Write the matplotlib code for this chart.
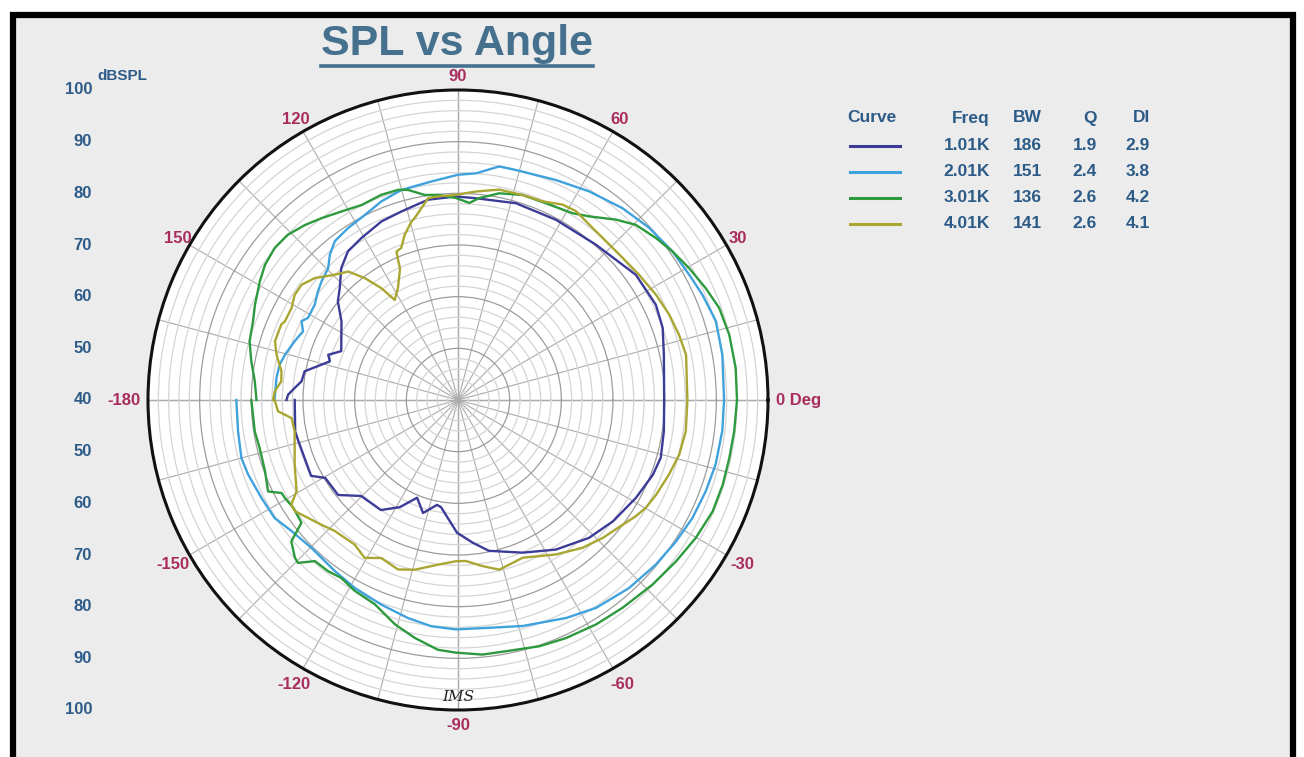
import numpy as np
import matplotlib
matplotlib.use("Agg")
import matplotlib.pyplot as plt
from matplotlib.patches import Rectangle
from matplotlib.lines import Line2D

plt.rcParams['font.family'] = ['Liberation Sans', 'DejaVu Sans']

# ---------------- data ----------------
theta_1k = [-180, -169, -165.6, -152.7, -149.6, -141.6, -135.3, -125, -118.5, -112.7, -107.2, -101.3, -99,
            -90.4, -84, -78.4, -67, -56.8, -46.5, -38, -28.8, -21, -15.9, -8.6, 0, 12.4, 19.4, 25.7, 35.1,
            48.4, 61.5, 73.6, 84.9, 90.6, 98.5, 106.7, 113.2, 120.8, 126.5, 131.5, 136.6, 140.6, 146, 157.3,
            160.8, 163.2, 165.5, 169.4, 173.2, 175.8, 178.2, 180]
spl_1k = [71.6, 72.1, 71.9, 72.0, 69.8, 69.6, 66.4, 66.0, 63.6, 60.5, 62.9, 60.7, 61.0,
          65.7, 67.8, 69.8, 72.1, 74.6, 76.8, 78.1, 79.3, 80.4, 80.8, 80.3, 79.9, 80.8, 82.0, 82.5, 82.1,
          80.2, 79.7, 79.7, 79.2, 79.4, 79.2, 78.1, 77.6, 76.5, 75.8, 74.1, 71.5, 70.1, 67.2, 64.5,
          66.6, 65.9, 67.3, 70.2, 70.5, 71.7, 72.9, 73.2]

theta_2k = [-180, -171.9, -165, -160.4, -153.5, -147.2, -141.8, -134.7, -125.7, -118.8, -110.5, -102.9, -96.7,
            -90.5, -82.2, -74, -63.6, -56.4, -47.7, -39.8, -33, -26.7, -20.2, -14.1, -6.7, 0, 9.7, 17, 23.3,
            28.4, 34.7, 42, 49.4, 57.8, 66, 75.9, 80, 85.5, 90, 97, 105.1, 111.1, 116.7, 122.6, 127.8, 131.4,
            134.6, 139, 142.2, 146.4, 151.3, 153.3, 156.1, 160.2, 165.3, 168.8, 173.1, 180]
spl_2k = [82.9, 83.0, 83.4, 83.1, 82.5, 82.2, 81.0, 80.3, 80.8, 81.5, 82.3, 83.3, 84.1,
          84.4, 84.5, 85.5, 87.1, 88.3, 89.2, 89.8, 90.3, 90.8, 91.1, 91.4, 91.5, 91.5, 91.9, 92.2, 91.5,
          90.9, 90.5, 89.8, 88.9, 87.7, 86.6, 85.9, 85.9, 84.0, 83.6, 82.6, 82.1, 81.2, 80.1, 79.5, 78.9, 77.5,
          75.8, 75.0, 74.3, 73.3, 73.1, 73.9, 72.8, 73.6, 74.6, 75.2, 75.4, 75.5]

theta_3k = [-180, -171.2, -166.4, -159.8, -154.3, -152.2, -150.5, -146.8, -141.9, -139.7, -136, -134.5, -131.6,
            -127.2, -123.3, -118.4, -112.1, -105.7, -100.3, -94.6, -90.5, -84.5, -79.2, -71.7, -65.6, -58.4,
            -51.6, -43.5, -36.5, -30.1, -23.6, -17.7, -12.1, -6.5, 0, 6.6, 13.5, 19.4, 24.3, 29.7, 34.7, 39.3,
            44.6, 48.8, 54.4, 58.5, 65.9, 72.5, 78.7, 84, 86.7, 90.6, 95.6, 99.2, 103.4, 105.9, 110.5, 116.3,
            121.7, 126.9, 131.2, 135.8, 140.3, 145, 149.1, 154.9, 159, 164.3, 169.4, 174.7, 180]
spl_3k = [80.0, 79.8, 79.5, 79.8, 80.8, 78.6, 78.5, 78.1, 78.5, 82.3, 83.9, 84.2, 81.7,
          81.6, 81.2, 82.0, 82.7, 85.1, 86.8, 88.5, 88.9, 89.5, 89.5, 90.2, 90.6, 91.0,
          91.3, 91.9, 92.5, 93.2, 93.8, 93.8, 93.7, 93.8, 94.0, 94.1, 94.0, 93.6, 92.6, 91.5, 90.5, 89.5,
          88.3, 86.4, 83.7, 82.4, 81.7, 81.6, 80.8, 79.3, 78.2, 79.1, 79.9, 80.2, 81.8, 82.3, 82.4, 82.1,
          82.9, 84.0, 85.0, 85.9, 86.1, 85.6, 84.7, 83.4, 82.5, 81.9, 80.7, 79.5, 79.0]

theta_4k = [-180, -176.4, -173.8, -169.1, -158.4, -150.5, -147.9, -145.7, -137.6, -133.2, -125.5, -120.6, -115.9,
            -109.5, -104.3, -96.9, -90.7, -87.2, -81.6, -76.3, -67.7, -57.6, -49.9, -43.6, -37.1, -33.2, -29.9,
            -25.6, -19.5, -13.9, -7.8, 0, 11.2, 16.4, 22, 28, 34.7, 40.8, 47, 53.2, 58, 61.8, 66.9, 72.5, 78.9,
            85.1, 90.6, 95.6, 98.4, 103.4, 104.6, 107.9, 110.5, 112.5, 113.2, 113.8, 118.2, 122.3, 124.4, 127.4,
            130.5, 134.5, 139.6, 143.6, 147.2, 151.1, 155.6, 156.9, 162.2, 166, 170.8, 174, 177.3, 180]
spl_4k = [75.5, 74.9, 72.4, 72.2, 74.0, 75.9, 78.1, 78.2, 75.8, 74.8, 74.4, 75.5, 74.0,
          74.8, 73.9, 72.1, 71.2, 71.2, 72.5, 73.8, 73.0, 75.4, 77.4, 78.7, 80.0, 81.1, 81.9,
          82.5, 83.3, 84.1, 84.5, 84.4, 85.0, 84.6, 84.1, 83.4, 82.6, 82.1, 82.0, 82.4, 83.1, 82.9, 81.8, 81.6, 81.5,
          80.5, 79.7, 79.6, 79.5, 76.2, 75.7, 73.6, 71.4, 71.1, 69.4, 67.8, 64.6, 62.9, 66.2, 69.7,
          72.7, 74.0, 76.4, 77.6, 77.6, 76.8, 76.8, 77.2, 77.2, 76.2, 74.6, 74.4, 75.5, 75.8]

freq_labels = ['1.01K', '2.01K', '3.01K', '4.01K']
bw_values = [186, 151, 136, 141]
q_values = [1.9, 2.4, 2.6, 2.6]
di_values = [2.9, 3.8, 4.2, 4.1]
curve_colors = ['#3b3b98', '#40a2dd', '#2e9a3e', '#a9a632']

angle_ticks = [90, 60, 30, 0, -30, -60, -90, -120, -150, -180, 150, 120]
angle_tick_labels = ['90', '60', '30', '0 Deg', '-30', '-60', '-90', '-120', '-150', '-180', '150', '120']
radial_labels = [100, 90, 80, 70, 60, 50, 40]

# ---------------- figure ----------------
W, H = 1304, 757
fig = plt.figure(figsize=(W / 100, H / 100), dpi=100, facecolor='white')

frame = Rectangle((13 / W, -0.1), (1293 - 13) / W, (H - 15) / H + 0.1,
                  transform=fig.transFigure, facecolor='#ececec', edgecolor='black',
                  lw=4.5, zorder=0)
fig.add_artist(frame)

cx, cy, R = 458, 357, 310
ax = fig.add_axes([(cx - R) / W, (cy - R) / H, 2 * R / W, 2 * R / H], projection='polar')
ax.set_facecolor('white')
ax.set_ylim(40, 100)
ax.set_yticks([50, 60, 70, 80, 90])
ax.set_yticks(np.arange(42, 100, 2), minor=True)
ax.set_yticklabels([])
ax.tick_params(axis='y', which='both', length=0)
ax.yaxis.grid(True, which='major', color='#9c9c9c', lw=0.9)
ax.yaxis.grid(True, which='minor', color='#d4d4d4', lw=0.9)
ax.set_xticks(np.deg2rad(np.arange(0, 360, 15)))
ax.set_xticklabels([])
ax.tick_params(axis='x', length=0)
ax.xaxis.grid(True, color='#ababab', lw=0.8)
for a in [0, 90, 180, 270]:
    ax.plot([np.deg2rad(a)] * 2, [40, 100], color='#777777', lw=0.9, zorder=1)
ax.spines['polar'].set_linewidth(2.2)
ax.spines['polar'].set_color('#111111')

for th, spl, col in zip([theta_1k, theta_2k, theta_3k, theta_4k],
                        [spl_1k, spl_2k, spl_3k, spl_4k], curve_colors):
    ax.plot(np.deg2rad(th), spl, color=col, lw=1.7, zorder=3)

lab_col = '#a82c5c'
afs = 12
for ang, lab in zip(angle_ticks, angle_tick_labels):
    t = np.deg2rad(ang)
    if ang == 0:
        ax.text(t, 101.6, lab, ha='left', va='center', color=lab_col, fontsize=afs,
                fontweight='bold', clip_on=False)
    elif ang == -180:
        ax.text(t, 101.4, lab, ha='right', va='center', color=lab_col, fontsize=afs,
                fontweight='bold', clip_on=False)
    else:
        r = 102.6 if ang >= 0 else 103.6
        if ang == -90:
            r = 103.0
        ax.text(t, r, lab, ha='center', va='center', color=lab_col, fontsize=afs,
                fontweight='bold', clip_on=False)

# left radial scale
txt_col = '#2d5b88'
for v in radial_labels:
    for sgn in ([1] if v == 40 else [1, -1]):
        _, ypix = ax.transData.transform((sgn * np.pi / 2, v))
        fig.text(92 / W, ypix / H, str(v), ha='right', va='center', color=txt_col,
                 fontsize=12, fontweight='bold')
fig.text(97 / W, 1 - 76 / H, 'dBSPL', ha='left', va='center', color=txt_col,
         fontsize=11, fontweight='bold')

# title with underline
title = fig.text(457 / W, 1 - 44 / H, 'SPL vs Angle', ha='center', va='center',
                 color='#45708e', fontsize=31, fontweight='bold')
fig.canvas.draw()
bb = title.get_window_extent(renderer=fig.canvas.get_renderer())
fig.add_artist(Line2D([bb.x0 / W, bb.x1 / W], [(H - 66) / H] * 2, transform=fig.transFigure,
                      color='#45708e', lw=2.6))

# handwritten mark
fig.text(458 / W, 1 - 697 / H, 'IMS', ha='center', va='center', fontsize=11,
         family='DejaVu Serif', style='italic', color='#222222')

# legend table
fs = 12.5
fig.text(872 / W, 1 - 118 / H, 'Curve', ha='center', va='center', color=txt_col, fontsize=fs, fontweight='bold')
col_x = [990, 1042, 1097, 1150]
for x, h in zip(col_x, ['Freq', 'BW', 'Q', 'DI']):
    fig.text(x / W, 1 - 118 / H, h, ha='right', va='center', color=txt_col, fontsize=fs, fontweight='bold')
row_y = [146, 172, 198, 224]
for i in range(4):
    y = 1 - row_y[i] / H
    fig.add_artist(Line2D([850 / W, 900 / W], [y, y], transform=fig.transFigure,
                          color=curve_colors[i], lw=2.2))
    vals = [freq_labels[i], str(bw_values[i]), f'{q_values[i]:.1f}', f'{di_values[i]:.1f}']
    for x, s in zip(col_x, vals):
        fig.text(x / W, y, s, ha='right', va='center', color=txt_col, fontsize=fs, fontweight='bold')

fig.savefig('out.png', dpi=100, facecolor='white')
